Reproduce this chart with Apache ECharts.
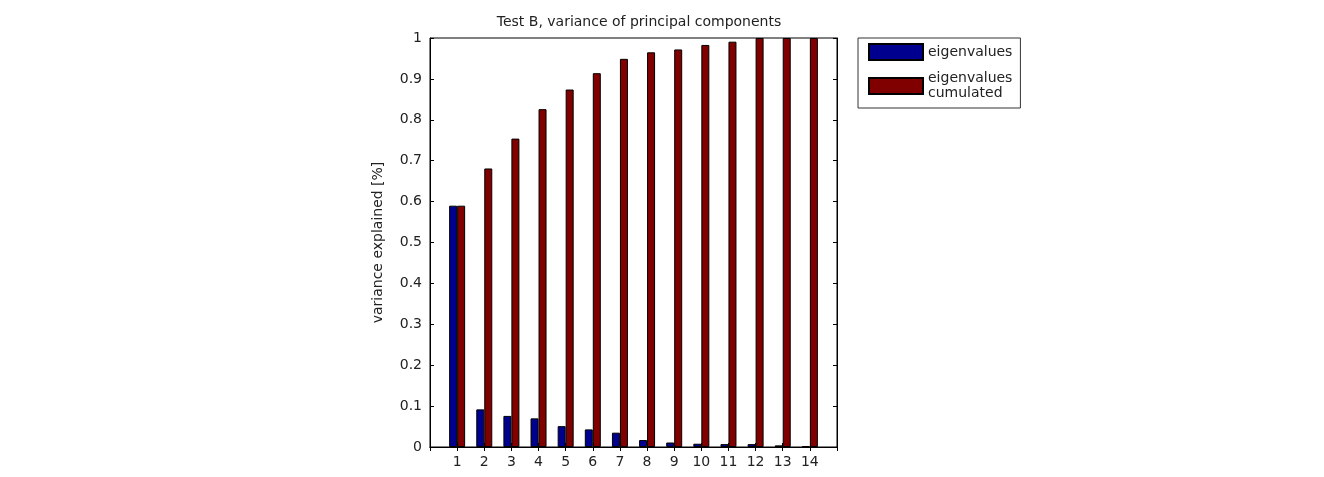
<!DOCTYPE html>
<html>
<head>
<meta charset="utf-8">
<script src="https://cdn.jsdelivr.net/npm/echarts@6/dist/echarts.min.js"></script>
<style>
  html, body { margin: 0; padding: 0; background: #fff; }
  #chart { width: 1324px; height: 477px; }
</style>
</head>
<body>
<div id="chart"></div>
<script>
// 主成分编号（x 轴刻度）
const components = ['1', '2', '3', '4', '5', '6', '7', '8', '9', '10', '11', '12', '13', '14'];
// 各主成分解释的方差
const eigenvalues = [0.59, 0.092, 0.076, 0.070, 0.051, 0.043, 0.035, 0.017, 0.011, 0.008, 0.007, 0.007, 0.004, 0.002];
// 累计方差
const cumulated = [0.59, 0.681, 0.754, 0.826, 0.874, 0.914, 0.949, 0.965, 0.972, 0.983, 0.991, 1.0, 1.0, 1.0];

// x 轴范围 0..15，两端留空位
const categories = [''].concat(components, ['']);
const pad = arr => [null].concat(arr, [null]);

const FONT = 'DejaVu Sans';
const TXT = '#222';

const chart = echarts.init(document.getElementById('chart'));

chart.setOption({
    animation: false,
    textStyle: { fontFamily: FONT },
    title: {
        text: 'Test B, variance of principal components',
        left: 634, top: 10, textAlign: 'center',
        textStyle: { fontSize: 14, fontWeight: 'normal', color: TXT, fontFamily: FONT }
    },
    grid: {
        left: 430, top: 38, width: 407, height: 409,
        outerBoundsMode: 'none', containLabel: false,
        show: true, borderColor: '#000', borderWidth: 1
    },
    legend: {
        orient: 'vertical',
        left: 858, top: 38,
        padding: [5, 8, 7, 10],
        icon: 'rect',
        itemWidth: 54, itemHeight: 16, itemGap: 10,
        borderColor: '#333', borderWidth: 1,
        backgroundColor: '#fff',
        textStyle: { fontSize: 14, color: TXT, fontFamily: FONT, lineHeight: 15 },
        data: ['eigenvalues', 'eigenvalues\ncumulated']
    },
    xAxis: [{
        type: 'category',
        data: categories,
        boundaryGap: false,
        name: 'principal components',
        nameLocation: 'middle', nameGap: 31,
        nameTextStyle: { fontSize: 14, color: TXT },
        axisLine: { lineStyle: { color: '#000' } },
        axisTick: { inside: true, length: 4, lineStyle: { color: '#000' } },
        axisLabel: { fontSize: 14, color: TXT, margin: 8 },
        splitLine: { show: false }
    }, {
        type: 'category',
        data: categories,
        boundaryGap: false,
        position: 'top',
        axisLine: { lineStyle: { color: '#000' } },
        axisTick: { inside: true, length: 4, lineStyle: { color: '#000' } },
        axisLabel: { show: false },
        splitLine: { show: false }
    }],
    yAxis: [{
        type: 'value',
        min: 0, max: 1, interval: 0.1,
        name: 'variance explained [%]',
        nameLocation: 'middle', nameGap: 45,
        nameTextStyle: { fontSize: 14, color: TXT },
        axisLine: { show: true, lineStyle: { color: '#000' } },
        axisTick: { show: true, inside: true, length: 4, lineStyle: { color: '#000' } },
        axisLabel: { fontSize: 14, color: TXT, margin: 8 },
        splitLine: { show: false }
    }, {
        type: 'value',
        min: 0, max: 1, interval: 0.1,
        position: 'right',
        axisLine: { show: true, lineStyle: { color: '#000' } },
        axisTick: { show: true, inside: true, length: 4, lineStyle: { color: '#000' } },
        axisLabel: { show: false },
        splitLine: { show: false }
    }],
    series: [{
        name: 'eigenvalues',
        type: 'bar',
        data: pad(eigenvalues),
        barWidth: 8,
        barGap: '0%',
        itemStyle: { color: '#00008f', borderColor: '#000', borderWidth: 1 }
    }, {
        name: 'eigenvalues\ncumulated',
        type: 'bar',
        data: pad(cumulated),
        barWidth: 8,
        barGap: '0%',
        itemStyle: { color: '#800000', borderColor: '#000', borderWidth: 1 }
    }]
});
</script>
</body>
</html>
